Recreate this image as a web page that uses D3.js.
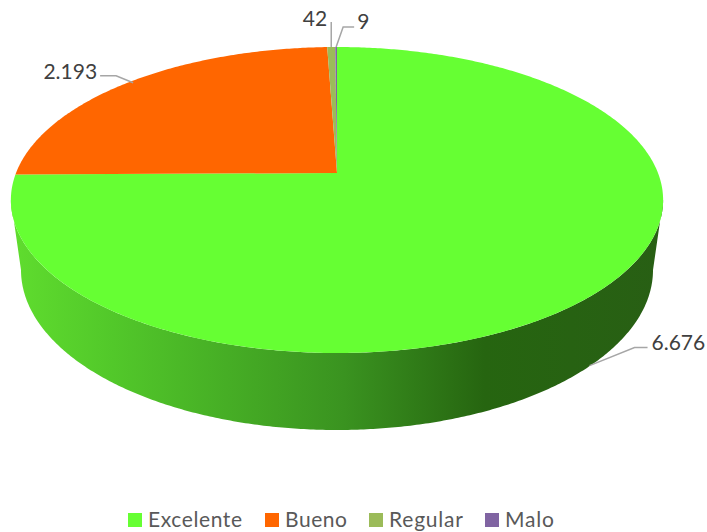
<!DOCTYPE html>
<html>
<head>
<meta charset="utf-8">
<script src="https://cdnjs.cloudflare.com/ajax/libs/d3/7.8.5/d3.min.js"></script>
<style>
html, body { margin: 0; padding: 0; background: #fff; }
svg { display: block; }
text { font-family: Lato, "Open Sans", sans-serif; }
</style>
</head>
<body>
<div id="chart"></div>
<script>
var categories = ["Excelente", "Bueno", "Regular", "Malo"];
var values = [6676, 2193, 42, 9];
var valueLabels = ["6.676", "2.193", "42", "9"];
var colors = ["#66ff33", "#ff6600", "#9bbb59", "#8064a2"];

var width = 707, height = 532;

// tilted pie: top face centre, half width, front / back half heights
var centreX = 337, hubY = 173,
    frontH = 180, backH = 126,
    halfW = 321;

// lower rim of the wall
var rimY = 270, rimW = 316, rimH = 160;

// perspective of the tilted disc
var tilt = (frontH - backH) / (frontH + backH),
    squash = frontH * (1 - tilt);

function topFace(angle) {
    var u = Math.sin(angle), v = -Math.cos(angle), w = 1 - tilt * v;
    return [centreX + halfW * u / w, hubY + squash * v / w];
}
function bottomFace(angle) {
    return [centreX + rimW * Math.sin(angle), rimY - rimH * Math.cos(angle)];
}

function arcPoints(a0, a1, fn) {
    var n = Math.max(2, Math.ceil(Math.abs(a1 - a0) / 0.01));
    return d3.range(n + 1).map(function(i) { return fn(a0 + (a1 - a0) * i / n); });
}

var svg = d3.select("#chart").append("svg")
    .attr("width", width)
    .attr("height", height);

var line = d3.line();

var slices = d3.pie().sort(null).value(function(d) { return d; })(values);

// side wall, shaded left to right
var grad = svg.append("defs").append("linearGradient")
    .attr("id", "wall")
    .attr("gradientUnits", "userSpaceOnUse")
    .attr("x1", centreX - halfW).attr("x2", centreX + halfW)
    .attr("y1", 0).attr("y2", 0);
grad.selectAll("stop")
    .data([[0, "#5fdc2e"], [0.15, "#52c82a"], [0.51, "#3a9320"], [0.73, "#266510"], [1, "#285f14"]])
    .enter().append("stop")
    .attr("offset", function(d) { return d[0]; })
    .attr("stop-color", function(d) { return d[1]; });

// the wall runs between the two tangent points of the disc
var tangent = Math.acos(-tilt);
var wallTop = arcPoints(tangent, 2 * Math.PI - tangent, topFace);
var wallBottom = arcPoints(3 * Math.PI / 2, Math.PI / 2, bottomFace);
svg.append("path")
    .attr("d", line(wallTop.concat(wallBottom)) + "Z")
    .attr("fill", "url(#wall)");

// top face
svg.selectAll(".slice")
    .data(slices)
    .enter().append("path")
    .attr("class", "slice")
    .attr("d", function(d) {
        return line([[centreX, hubY]].concat(arcPoints(d.startAngle, d.endAngle, topFace))) + "Z";
    })
    .attr("fill", function(d, i) { return colors[i]; });

// leader lines, offsets from the slice's middle
var leaders = [
    { fn: bottomFace, pts: [[28, -17], [73, -35], [86, -35]], tx: 90, ty: -33, anchor: "start" },
    { fn: topFace, pts: [[3, 1], [-14, -6], [-30, -6]], tx: -33, ty: -3, anchor: "end" },
    { fn: topFace, pts: [[0, 0], [0, -25]], tx: -4, ty: -21, anchor: "end" },
    { fn: topFace, pts: [[0, 0], [7, -20], [18, -20]], tx: 21, ty: -18, anchor: "start" }
];

leaders.forEach(function(l, i) {
    var p = l.fn((slices[i].startAngle + slices[i].endAngle) / 2);
    svg.append("path")
        .attr("d", line(l.pts.map(function(o) { return [p[0] + o[0], p[1] + o[1]]; })))
        .attr("fill", "none")
        .attr("stroke", "#a6a6a6")
        .attr("stroke-width", 1.5);
    svg.append("text")
        .attr("x", p[0] + l.tx)
        .attr("y", p[1] + l.ty)
        .attr("text-anchor", l.anchor)
        .attr("font-size", 21)
        .attr("fill", "#404040")
        .text(valueLabels[i]);
});

// legend
var legendX = d3.scaleOrdinal().domain(categories).range([128, 265, 369, 485]);
var legendWidth = [94, 62, 74, 49];
var legend = svg.selectAll(".legend")
    .data(categories)
    .enter().append("g")
    .attr("class", "legend")
    .attr("transform", function(d) { return "translate(" + legendX(d) + ",513)"; });
legend.append("rect")
    .attr("width", 14).attr("height", 14)
    .attr("fill", function(d, i) { return colors[i]; });
legend.append("text")
    .attr("x", 20).attr("y", 14)
    .attr("font-size", 21)
    .attr("fill", "#595959")
    .attr("textLength", function(d, i) { return legendWidth[i]; })
    .text(function(d) { return d; });
</script>
</body>
</html>
